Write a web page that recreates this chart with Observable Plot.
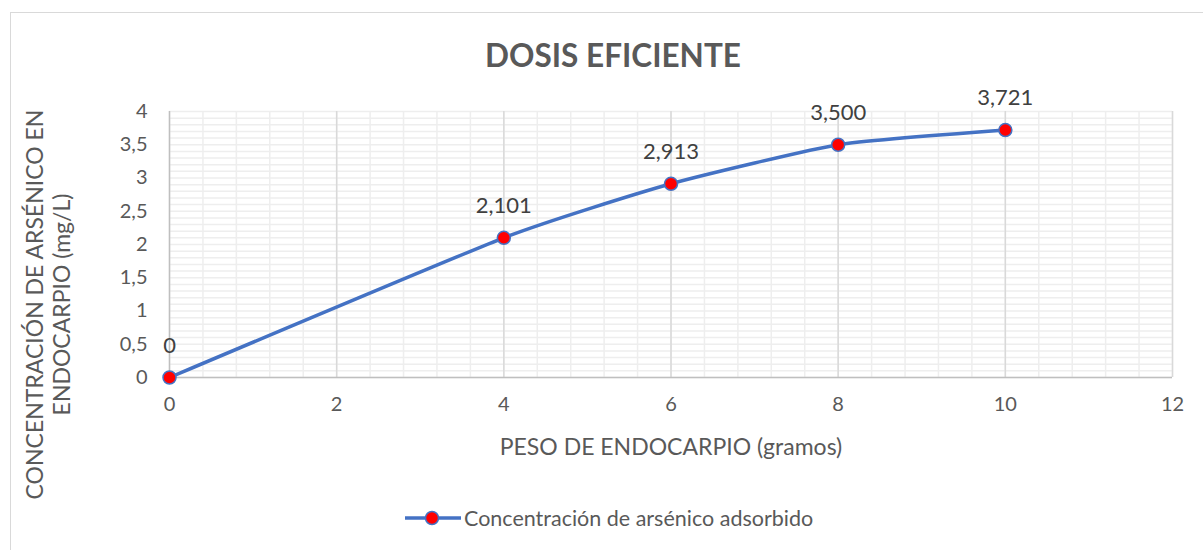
<!DOCTYPE html>
<html>
<head>
<meta charset="utf-8">
<script src="https://cdn.jsdelivr.net/npm/d3@7"></script>
<script src="https://cdn.jsdelivr.net/npm/@observablehq/plot@0.6"></script>
<style>
  html, body { margin: 0; padding: 0; background: #fff; }
  body { width: 1203px; height: 550px; position: relative; overflow: hidden; font-family: Lato, "Open Sans", sans-serif; }
  #frame { position: absolute; left: 10px; top: 12px; width: 1200px; height: 560px; border-left: 1.5px solid #d9d9d9; border-top: 1.5px solid #d9d9d9; }
  #title { position: absolute; left: 0; width: 1226px; top: 36px; text-align: center; font-size: 31.5px; font-weight: bold; color: #595959; }
  #chart { position: absolute; left: 0; top: 0; }
  #legend { position: absolute; left: 403px; top: 504px; display: flex; align-items: center; font-size: 21.5px; color: #595959; }
  #legend span { margin-left: 1px; }
</style>
</head>
<body>
<div id="frame"></div>
<div id="chart"></div>
<div id="title">DOSIS EFICIENTE</div>
<div id="legend">
  <svg width="60" height="28"><line x1="2" y1="14" x2="58" y2="14" stroke="#4472c4" stroke-width="3.5"/><circle cx="29" cy="14" r="6.5" fill="#ff0000" stroke="#4472c4" stroke-width="1.5"/></svg>
  <span>Concentración de arsénico adsorbido</span>
</div>
<script>
const pesos = [0, 4, 6, 8, 10];
const concentraciones = [0, 2.101, 2.913, 3.5, 3.721];
const etiquetas = ["0", "2,101", "2,913", "3,500", "3,721"];
const xTicks = [0, 2, 4, 6, 8, 10, 12];
const yTicks = [0, 0.5, 1, 1.5, 2, 2.5, 3, 3.5, 4];
const xTitle = "PESO DE ENDOCARPIO (gramos)";
const yTitle = "CONCENTRACIÓN DE ARSÉNICO EN\nENDOCARPIO (mg/L)";

const data = pesos.map((x, i) => ({x, y: concentraciones[i], label: etiquetas[i]}));
const minorY = d3.range(0, 40.5, 1).map(d => d / 10);
const minorX = d3.range(0, 30.5, 1).map(d => d * 0.4);
const blue = "#4472c4";
const comma = d => String(d).replace(".", ",");

const plot = Plot.plot({
  width: 1203,
  height: 550,
  marginLeft: 169,
  marginRight: 31,
  marginTop: 111,
  marginBottom: 173,
  style: {fontFamily: "Lato, 'Open Sans', sans-serif", background: "transparent", color: "#595959"},
  x: {domain: [0, 12]},
  y: {domain: [0, 4]},
  marks: [
    Plot.ruleY(minorY, {stroke: "#eeeeee", strokeWidth: 1.5}),
    Plot.ruleX(minorX, {stroke: "#eeeeee", strokeWidth: 1.5}),
    Plot.ruleX(xTicks.filter(d => d > 0), {stroke: "#d9d9d9", strokeWidth: 1.5}),
    Plot.ruleY([0], {stroke: "#bfbfbf", strokeWidth: 1.5}),
    Plot.ruleX([0], {stroke: "#bfbfbf", strokeWidth: 1.5}),
    Plot.axisX({ticks: xTicks, tickSize: 0, tickPadding: 19, fontSize: 20, label: null, tickFormat: comma}),
    Plot.axisY({ticks: yTicks, tickSize: 0, tickPadding: 22, fontSize: 20, label: null, tickFormat: comma}),
    Plot.text([xTitle], {frameAnchor: "bottom", lineAnchor: "middle", dy: 70, fontSize: 23, fill: "#595959"}),
    Plot.text([yTitle], {frameAnchor: "left", textAnchor: "middle", lineAnchor: "middle", dx: -122, dy: 60, rotate: -90, fontSize: 23, lineHeight: 1.17, fill: "#595959"}),
    Plot.line(data, {x: "x", y: "y", stroke: blue, strokeWidth: 3.5, curve: "cardinal", tension: 0.5}),
    Plot.dot(data, {x: "x", y: "y", r: 6.5, fill: "#ff0000", stroke: blue, strokeWidth: 1.5}),
    Plot.text(data, {x: "x", y: "y", text: "label", dy: -32, fontSize: 22, fill: "#404040"})
  ]
});
document.getElementById("chart").appendChild(plot);
</script>
</body>
</html>
